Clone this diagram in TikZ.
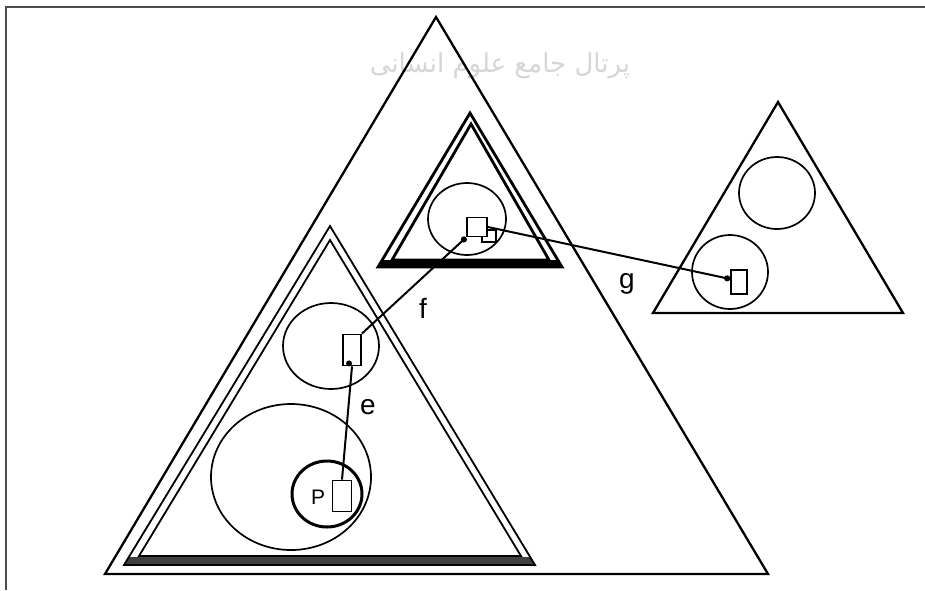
\documentclass[tikz,border=0pt]{standalone}
\usepackage{fontspec}
\setmainfont{Liberation Sans}
\newfontfamily\arabicfont[Script=Arabic]{DejaVu Sans}
\TeXXeTstate=1
\usetikzlibrary{arrows.meta}
\begin{document}
\begin{tikzpicture}[x=1pt,y=-1pt,
  tri/.style={line width=2.3pt, line join=miter},
  dbl/.style={line width=1.8pt, line join=miter},
  thk/.style={line width=2.8pt, line join=miter},
  ring/.style={line width=1.7pt},
  sq/.style={draw, line width=1.8pt, inner sep=0pt, fill=white},
  lbl/.style={font=\fontsize{28}{28}\selectfont, inner sep=0pt},
  link/.style={line width=2pt},
  dot/.style={-{Circle[length=6pt]}},
]
\useasboundingbox (0,0) rectangle (925,590);
\fill[white] (0,0) rectangle (925,590);
% frame
\draw[line width=2pt, black!70] (6,590) -- (6,7) -- (925,7);
% watermark
\node[black!16, font=\arabicfont\fontsize{26}{26}\selectfont] (wm) at (500,66) {\beginR پرتال جامع علوم انسانی\endR};
% big triangle
\draw[tri] (436,17) -- (768,574) -- (105,574) -- cycle;
% left double triangle
\fill[black!75] (124,565) -- (535,565) -- (530,557) -- (129,557) -- cycle;
\draw[dbl] (330,226) -- (535,565) -- (124,565) -- cycle;
\draw[dbl] (330,240) -- (521,556) -- (139,556) -- cycle;
% middle double triangle
\fill[black] (378,267) -- (562,267) -- (558,260) -- (382,260) -- cycle;
\draw[thk] (470,113) -- (562,267) -- (378,267) -- cycle;
\draw[thk] (471,124) -- (549,260) -- (392,260) -- cycle;
% right triangle
\draw[tri] (778,102) -- (903,313) -- (653,313) -- cycle;
% circles
\draw[ring] (777,193) ellipse [x radius=38pt, y radius=36pt];
\draw[ring] (730,272) ellipse [x radius=38pt, y radius=37pt];
\draw[ring] (467,219) ellipse [x radius=39pt, y radius=36pt];
\draw[ring] (331,346) ellipse [x radius=48pt, y radius=43pt];
\draw[ring] (291,477) ellipse [x radius=80pt, y radius=73pt];
\draw[line width=3pt] (327,494) ellipse [x radius=35pt, y radius=33pt];
% squares
\node[sq, minimum width=16pt, minimum height=24pt] (s1) at (739,282) {};
\node[sq, minimum width=14pt, minimum height=12pt] (s2b) at (489,236) {};
\node[sq, minimum width=20pt, minimum height=19pt] (s2) at (477,227) {};
\node[sq, minimum width=18pt, minimum height=31pt] (s3) at (352,350) {};
\node[sq, minimum width=19pt, minimum height=31pt] (s4) at (342,496) {};
\node[font=\fontsize{21}{21}\selectfont, inner sep=0pt] (p) at (318,497) {P};
% connectors
\draw[link, dot] (s3.north east) -- (s2.south west);
\draw[link, dot] (s2.east) -- ([yshift=3pt]s1.west);
\draw[link] (s3.south) -- (s4.north);
\fill ([xshift=-3pt,yshift=3pt]s3.south) circle (3pt);
% labels
\node[lbl] (le) at (368,407) {e};
\node[lbl] (lf) at (423,308) {f};
\node[lbl] (lg) at (627,284) {g};
\end{tikzpicture}
\end{document}
